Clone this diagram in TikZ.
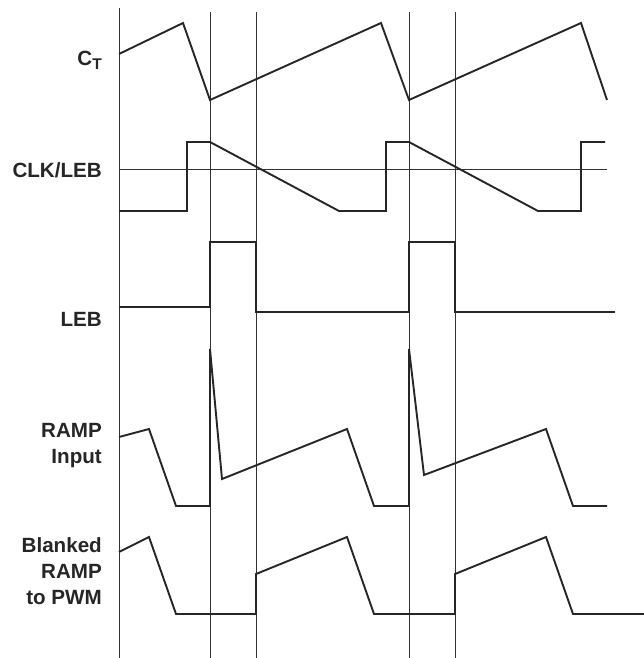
\documentclass[tikz,border=0pt]{standalone}
\usepackage{fontspec}
\setmainfont{Liberation Sans}
\usepackage{tikz}

\begin{document}
\begin{tikzpicture}[x=1pt,y=-1pt,
  wave/.style={line width=1.9pt,line join=miter,color=black!85},
  mark line/.style={line width=0.8pt,color=black!80},
  siglabel/.style={anchor=base east,inner sep=0pt,align=right,
    font=\fontsize{20.6}{26}\selectfont\bfseries,color=black!85}]
\useasboundingbox (0,0) rectangle (644,658);

% time markers
\draw[mark line] (119,8) -- (119,658);
\draw[mark line] (210,12) -- (210,658);
\draw[mark line] (256,12) -- (256,658);
\draw[mark line] (409,12) -- (409,658);
\draw[mark line] (455,12) -- (455,658);
\draw[mark line] (119,169) -- (607,169);

% labels (multi-line ones sit on their last baseline)
\node[siglabel] (ct) at (102,66) {C\raisebox{-3.3pt}{\fontsize{15.5}{15}\selectfont T}};
\node[siglabel] (clk) at (102,177) {CLK/LEB};
\node[siglabel] (leb) at (102,326.7) {LEB};
\node[siglabel] (ramp) at (102,463.3) {RAMP\\Input};
\node[siglabel] (blank) at (102,604) {Blanked\\RAMP\\to PWM};

% C_T
\draw[wave] (119,54) -- (183,23) -- (210,100) -- (381,23) -- (409,100)
  -- (581,23) -- (607,100);

% CLK/LEB
\draw[wave] (119,211) -- (187,211) -- (187,142) -- (210,142) -- (339,211)
  -- (386,211) -- (386,142) -- (409,142) -- (538,211) -- (581,211)
  -- (581,142) -- (605,142);

% LEB
\draw[wave] (119,307) -- (210,307) -- (210,242) -- (256,242) -- (256,312)
  -- (409,312) -- (409,242) -- (455,242) -- (455,312) -- (615,312);

% RAMP input
\draw[wave] (119,437) -- (149,429) -- (176,506) -- (210,506) -- (210,349)
  -- (222,479) -- (347,429) -- (374,506) -- (409,506) -- (409,349)
  -- (424,475) -- (546,429) -- (573,506) -- (607,506);

% blanked RAMP
\draw[wave] (119,552) -- (149,537) -- (176,614) -- (256,614) -- (256,574)
  -- (347,537) -- (374,614) -- (455,614) -- (455,574) -- (546,537)
  -- (573,614) -- (644,614);
\end{tikzpicture}
\end{document}
